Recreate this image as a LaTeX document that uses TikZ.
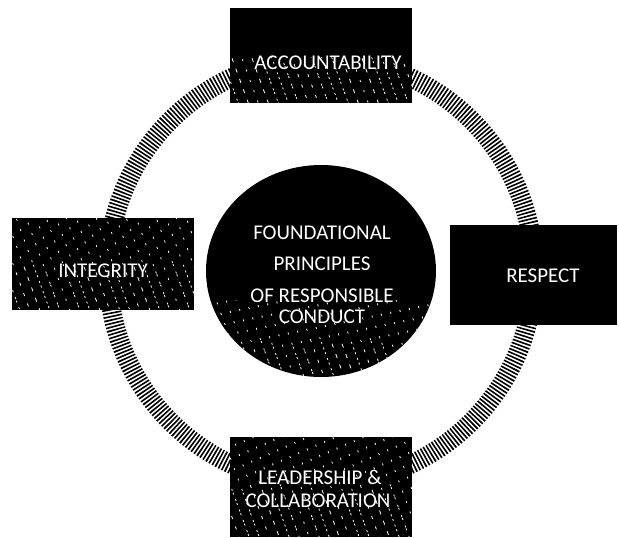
\documentclass[tikz,border=0pt]{standalone}
\usepackage{fontspec}
\setmainfont{Carlito}
\usetikzlibrary{shapes.geometric}
\begin{document}
\begin{tikzpicture}[x=1pt,y=-1pt,
  boxshape/.style={fill=black, draw=none, inner sep=0pt},
  lbl/.style={text=white, font=\fontsize{21}{24}\selectfont, inner sep=0pt, anchor=base},
  ringline/.style={line width=19pt, dash pattern=on 1.6pt off 1.8pt, black},
  speck/.style={white, line width=0.8pt, dash pattern=on 2pt off 9pt}]
\useasboundingbox (0,0) rectangle (619,538);
\coordinate (c) at (321,271);
% hatched ring
\draw[ringline] (c) circle[radius=213pt];
% centre disc
\node[ellipse, boxshape, minimum width=230pt, minimum height=212pt] (core) at (c) {};
% boxes
\node[boxshape, minimum width=182pt, minimum height=95pt] (acc) at (321,55.5) {};
\node[boxshape, minimum width=182pt, minimum height=92pt] (integ) at (103,264) {};
\node[boxshape, minimum width=167pt, minimum height=100pt] (resp) at (533.5,275) {};
\node[boxshape, minimum width=182pt, minimum height=100pt] (lead) at (321,487) {};
% scanned speckle texture
\begin{scope}
  \clip (integ.south west) rectangle (integ.north east);
  \foreach \i [count=\k] in {-140,-130,...,140} \draw[speck, dash phase={mod(\k*37,11)*1pt}] ([xshift=\i pt]integ.center) -- +(70:60) -- +(250:60);
\end{scope}
\begin{scope}
  \clip (lead.south west) rectangle (lead.north east);
  \foreach \i [count=\k] in {-140,-130,...,140} \draw[speck, dash phase={mod(\k*29,11)*1pt}] ([xshift=\i pt]lead.center) -- +(70:60) -- +(250:60);
\end{scope}
\begin{scope}
  \clip ([yshift=-2pt]acc.west) rectangle (acc.south east);
  \foreach \i [count=\k] in {-140,-130,...,140} \draw[speck, dash phase={mod(\k*23,11)*1pt}] ([xshift=\i pt]acc.center) -- +(70:60) -- +(250:60);
\end{scope}
\begin{scope}
  \clip (core.center) ellipse[x radius=115pt, y radius=106pt];
  \clip (200,300) rectangle (440,380);
  \foreach \i [count=\k] in {-160,-150,...,160} \draw[speck, dash phase={mod(\k*31,11)*1pt}] ([xshift=\i pt, yshift=-70pt]core.center) -- +(70:60) -- +(250:60);
\end{scope}
% labels
\node[lbl] (accT) at (328,69) {ACCOUNTABILITY};
\node[lbl] (integT) at (103,277) {INTEGRITY};
\node[lbl] (respT) at (543,282) {RESPECT};
\node[lbl] (leadT1) at (320,484) {LEADERSHIP \&};
\node[lbl] (leadT2) at (318,507) {COLLABORATION};
\node[lbl] (coreT1) at (322,239) {FOUNDATIONAL};
\node[lbl] (coreT2) at (322,270) {PRINCIPLES};
\node[lbl] (coreT3) at (322,302) {OF RESPONSIBLE};
\node[lbl] (coreT4) at (322,323) {CONDUCT};
\end{tikzpicture}
\end{document}
